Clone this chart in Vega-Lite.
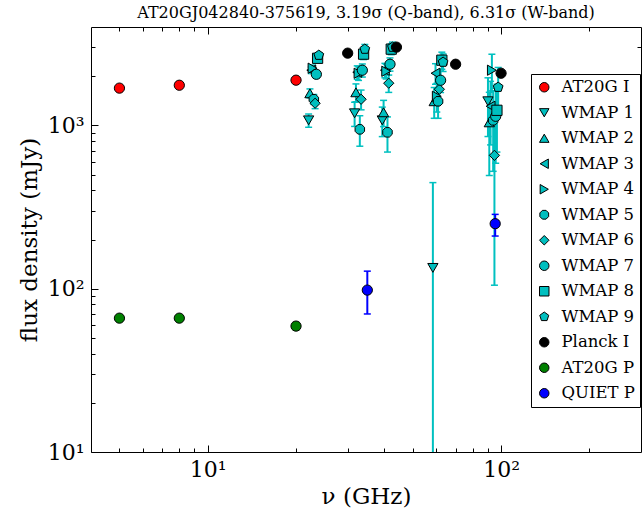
{
  "$schema": "https://vega.github.io/schema/vega-lite/v6.json",
  "width": 550,
  "height": 425,
  "autosize": {"type": "none"},
  "padding": {"left": 91, "top": 27, "right": 1, "bottom": 69},
  "background": "white",
  "title": {"text": "AT20GJ042840-375619, 3.19σ (Q-band), 6.31σ (W-band)", "font": "DejaVu Serif", "fontSize": 16, "fontWeight": "normal", "color": "black", "anchor": "middle", "offset": 6},
  "config": {
    "view": {"stroke": "black", "strokeWidth": 1},
    "axis": {"domain": false, "grid": false, "labelFont": "DejaVu Serif", "titleFont": "DejaVu Serif", "labelColor": "black", "titleColor": "black", "tickColor": "black", "tickWidth": 1, "labelFontSize": 22, "titleFontSize": 23, "titleFontWeight": "normal", "labelOverlap": false, "labelFlush": false}
  },
  "data": {"values": [
    {"s": "AT20G I", "f": 5, "v": 1690, "lo": 1630, "hi": 1750},
    {"s": "AT20G I", "f": 8, "v": 1760, "lo": 1700, "hi": 1820},
    {"s": "AT20G I", "f": 20, "v": 1890, "lo": 1820, "hi": 1960},
    {"s": "WMAP 1", "f": 22.08, "v": 1073, "lo": 973, "hi": 1173},
    {"s": "WMAP 1", "f": 31.68, "v": 1185, "lo": 985, "hi": 1385},
    {"s": "WMAP 1", "f": 39.36, "v": 1073, "lo": 853, "hi": 1293},
    {"s": "WMAP 1", "f": 58.56, "v": 134, "lo": 1, "hi": 446},
    {"s": "WMAP 1", "f": 90.24, "v": 1404, "lo": 854, "hi": 1954},
    {"s": "WMAP 2", "f": 22.31, "v": 1571, "lo": 1471, "hi": 1671},
    {"s": "WMAP 2", "f": 32.01, "v": 1593, "lo": 1393, "hi": 1793},
    {"s": "WMAP 2", "f": 39.77, "v": 1202, "lo": 982, "hi": 1422},
    {"s": "WMAP 2", "f": 59.17, "v": 1404, "lo": 1104, "hi": 1704},
    {"s": "WMAP 2", "f": 91.18, "v": 1043, "lo": 493, "hi": 1593},
    {"s": "WMAP 3", "f": 22.54, "v": 2175, "lo": 2075, "hi": 2275},
    {"s": "WMAP 3", "f": 32.34, "v": 2113, "lo": 1913, "hi": 2313},
    {"s": "WMAP 3", "f": 40.18, "v": 2175, "lo": 1955, "hi": 2395},
    {"s": "WMAP 3", "f": 59.78, "v": 2084, "lo": 1784, "hi": 2384},
    {"s": "WMAP 3", "f": 92.12, "v": 1309, "lo": 759, "hi": 1859},
    {"s": "WMAP 4", "f": 22.77, "v": 2238, "lo": 2138, "hi": 2338},
    {"s": "WMAP 4", "f": 32.67, "v": 2084, "lo": 1884, "hi": 2284},
    {"s": "WMAP 4", "f": 40.59, "v": 2143, "lo": 1923, "hi": 2363},
    {"s": "WMAP 4", "f": 60.39, "v": 1506, "lo": 1206, "hi": 1806},
    {"s": "WMAP 4", "f": 93.06, "v": 2175, "lo": 1625, "hi": 2725},
    {"s": "WMAP 5", "f": 23.0, "v": 1444, "lo": 1344, "hi": 1544},
    {"s": "WMAP 5", "f": 33.0, "v": 945, "lo": 745, "hi": 1145},
    {"s": "WMAP 5", "f": 41.0, "v": 906, "lo": 686, "hi": 1126},
    {"s": "WMAP 5", "f": 61.0, "v": 1404, "lo": 1104, "hi": 1704},
    {"s": "WMAP 5", "f": 94.0, "v": 1073, "lo": 523, "hi": 1623},
    {"s": "WMAP 6", "f": 23.23, "v": 1365, "lo": 1265, "hi": 1465},
    {"s": "WMAP 6", "f": 33.33, "v": 1444, "lo": 1244, "hi": 1644},
    {"s": "WMAP 6", "f": 41.41, "v": 1811, "lo": 1591, "hi": 2031},
    {"s": "WMAP 6", "f": 61.61, "v": 1663, "lo": 1363, "hi": 1963},
    {"s": "WMAP 6", "f": 94.94, "v": 655, "lo": 105, "hi": 1205},
    {"s": "WMAP 7", "f": 23.46, "v": 2054, "lo": 1954, "hi": 2154},
    {"s": "WMAP 7", "f": 33.66, "v": 2175, "lo": 1975, "hi": 2375},
    {"s": "WMAP 7", "f": 41.82, "v": 2367, "lo": 2147, "hi": 2587},
    {"s": "WMAP 7", "f": 62.22, "v": 1888, "lo": 1588, "hi": 2188},
    {"s": "WMAP 7", "f": 95.88, "v": 1136, "lo": 586, "hi": 1686},
    {"s": "WMAP 8", "f": 23.69, "v": 2573, "lo": 2473, "hi": 2673},
    {"s": "WMAP 8", "f": 33.99, "v": 2728, "lo": 2528, "hi": 2928},
    {"s": "WMAP 8", "f": 42.23, "v": 2927, "lo": 2707, "hi": 3147},
    {"s": "WMAP 8", "f": 62.83, "v": 2505, "lo": 2205, "hi": 2805},
    {"s": "WMAP 8", "f": 96.82, "v": 1236, "lo": 686, "hi": 1786},
    {"s": "WMAP 9", "f": 23.92, "v": 2687, "lo": 2587, "hi": 2787},
    {"s": "WMAP 9", "f": 34.32, "v": 2927, "lo": 2727, "hi": 3127},
    {"s": "WMAP 9", "f": 42.64, "v": 3010, "lo": 2790, "hi": 3230},
    {"s": "WMAP 9", "f": 63.44, "v": 2436, "lo": 2136, "hi": 2736},
    {"s": "WMAP 9", "f": 97.76, "v": 1711, "lo": 1161, "hi": 2261},
    {"s": "Planck I", "f": 30, "v": 2767, "lo": 2740, "hi": 2794},
    {"s": "Planck I", "f": 44, "v": 3012, "lo": 2980, "hi": 3044},
    {"s": "Planck I", "f": 70, "v": 2367, "lo": 2335, "hi": 2399},
    {"s": "Planck I", "f": 100, "v": 2084, "lo": 2060, "hi": 2108},
    {"s": "AT20G P", "f": 5, "v": 66, "lo": 64, "hi": 68},
    {"s": "AT20G P", "f": 8, "v": 66, "lo": 64, "hi": 68},
    {"s": "AT20G P", "f": 20, "v": 59, "lo": 56, "hi": 62},
    {"s": "QUIET P", "f": 35, "v": 98, "lo": 70, "hi": 128},
    {"s": "QUIET P", "f": 95.5, "v": 250, "lo": 210, "hi": 285}
  ]},
  "layer": [
    {
      "mark": {"type": "rule", "strokeWidth": 2, "clip": true},
      "encoding": {
        "x": {"field": "f", "type": "quantitative", "scale": {"type": "log", "domain": [4, 300], "nice": false},
          "axis": {"orient": "bottom", "values": [5,6,7,8,9,10,20,30,40,50,60,70,80,90,100,200], "labelExpr": "datum.value == 10 ? '10¹' : datum.value == 100 ? '10²' : ''", "tickSize": {"condition": {"test": "datum.value == 10 || datum.value == 100", "value": -7}, "value": -4}, "labelPadding": 14, "title": "ν (GHz)", "titlePadding": 2}},
        "y": {"field": "lo", "type": "quantitative", "scale": {"type": "log", "domain": [10, 4000], "nice": false},
          "axis": {"orient": "left", "values": [10,20,30,40,50,60,70,80,90,100,200,300,400,500,600,700,800,900,1000,2000,3000], "labelExpr": "datum.value == 10 ? '10¹' : datum.value == 100 ? '10²' : datum.value == 1000 ? '10³' : ''", "tickSize": {"condition": {"test": "datum.value == 10 || datum.value == 100 || datum.value == 1000", "value": -7}, "value": -4}, "labelPadding": 14, "title": "flux density (mJy)", "titlePadding": 6}},
        "y2": {"field": "hi"},
        "stroke": {"field": "s", "type": "nominal", "legend": null,
          "scale": {"domain": ["QUIET P","AT20G P","Planck I","WMAP 9","WMAP 8","WMAP 7","WMAP 6","WMAP 5","WMAP 4","WMAP 3","WMAP 2","WMAP 1","AT20G I"],
            "range": ["#0000ff","#008000","#000000","#00c0c0","#00c0c0","#00c0c0","#00c0c0","#00c0c0","#00c0c0","#00c0c0","#00c0c0","#00c0c0","#ff8080"]}}
      }
    },
    {
      "mark": {"type": "point", "shape": "stroke", "size": 49, "strokeWidth": 1.5, "filled": false, "opacity": 1, "clip": true},
      "encoding": {
        "x": {"field": "f", "type": "quantitative", "scale": {"type": "log", "domain": [4, 300], "nice": false}, "axis": null},
        "y": {"field": "lo", "type": "quantitative", "scale": {"type": "log", "domain": [10, 4000], "nice": false}, "axis": null},
        "stroke": {"field": "s", "type": "nominal", "legend": null}
      }
    },
    {
      "mark": {"type": "point", "shape": "stroke", "size": 49, "strokeWidth": 1.5, "filled": false, "opacity": 1, "clip": true},
      "encoding": {
        "x": {"field": "f", "type": "quantitative", "scale": {"type": "log", "domain": [4, 300], "nice": false}, "axis": null},
        "y": {"field": "hi", "type": "quantitative", "scale": {"type": "log", "domain": [10, 4000], "nice": false}, "axis": null},
        "stroke": {"field": "s", "type": "nominal", "legend": null}
      }
    },
    {
      "mark": {"type": "point", "filled": true, "stroke": "black", "strokeWidth": 1, "size": 105, "opacity": 1},
      "encoding": {
        "x": {"field": "f", "type": "quantitative", "scale": {"type": "log", "domain": [4, 300], "nice": false},
          "axis": {"orient": "top", "values": [5,6,7,8,9,10,20,30,40,50,60,70,80,90,100,200], "labels": false, "title": null, "tickSize": {"condition": {"test": "datum.value == 10 || datum.value == 100", "value": -7}, "value": -4}}},
        "y": {"field": "v", "type": "quantitative", "scale": {"type": "log", "domain": [10, 4000], "nice": false},
          "axis": {"orient": "right", "values": [20,30,40,50,60,70,80,90,100,200,300,400,500,600,700,800,900,1000,2000,3000], "labels": false, "title": null, "tickSize": {"condition": {"test": "datum.value == 10 || datum.value == 100 || datum.value == 1000", "value": -7}, "value": -4}}},
        "fill": {"field": "s", "type": "nominal",
          "scale": {"domain": ["AT20G I","WMAP 1","WMAP 2","WMAP 3","WMAP 4","WMAP 5","WMAP 6","WMAP 7","WMAP 8","WMAP 9","Planck I","AT20G P","QUIET P"],
            "range": ["#ff0000","#00bfbf","#00bfbf","#00bfbf","#00bfbf","#00bfbf","#00bfbf","#00bfbf","#00bfbf","#00bfbf","#000000","#008000","#0000ff"]},
          "legend": {"title": null, "orient": "none", "legendX": 440, "legendY": 47, "direction": "vertical", "fillColor": "white", "strokeColor": "black", "padding": 5, "labelFont": "DejaVu Serif", "labelFontSize": 16.5, "labelColor": "black", "symbolStrokeColor": "black", "symbolStrokeWidth": 1, "symbolSize": 90, "rowPadding": 8.5, "labelOffset": 9, "cornerRadius": 0, "symbolOpacity": 1,
            "encode": {"symbols": {"update": {"stroke": {"value": "black"}, "strokeWidth": {"value": 1}}}}}},
        "shape": {"field": "s", "type": "nominal",
          "scale": {"domain": ["AT20G I","WMAP 1","WMAP 2","WMAP 3","WMAP 4","WMAP 5","WMAP 6","WMAP 7","WMAP 8","WMAP 9","Planck I","AT20G P","QUIET P"],
            "range": ["circle","triangle-down","triangle-up","triangle-left","triangle-right","M-0.383,-0.924L0.383,-0.924L0.924,-0.383L0.924,0.383L0.383,0.924L-0.383,0.924L-0.924,0.383L-0.924,-0.383Z","diamond","circle","square","M0,-1L0.951,-0.309L0.588,0.809L-0.588,0.809L-0.951,-0.309Z","circle","circle","circle"]},
          "legend": {"title": null, "orient": "none", "legendX": 440, "legendY": 47, "direction": "vertical", "fillColor": "white", "strokeColor": "black", "padding": 5, "labelFont": "DejaVu Serif", "labelFontSize": 16.5, "labelColor": "black", "symbolStrokeColor": "black", "symbolStrokeWidth": 1, "symbolSize": 90, "rowPadding": 8.5, "labelOffset": 9, "cornerRadius": 0, "symbolOpacity": 1,
            "encode": {"symbols": {"update": {"stroke": {"value": "black"}, "strokeWidth": {"value": 1}}}}}}
      }
    }
  ]
}
